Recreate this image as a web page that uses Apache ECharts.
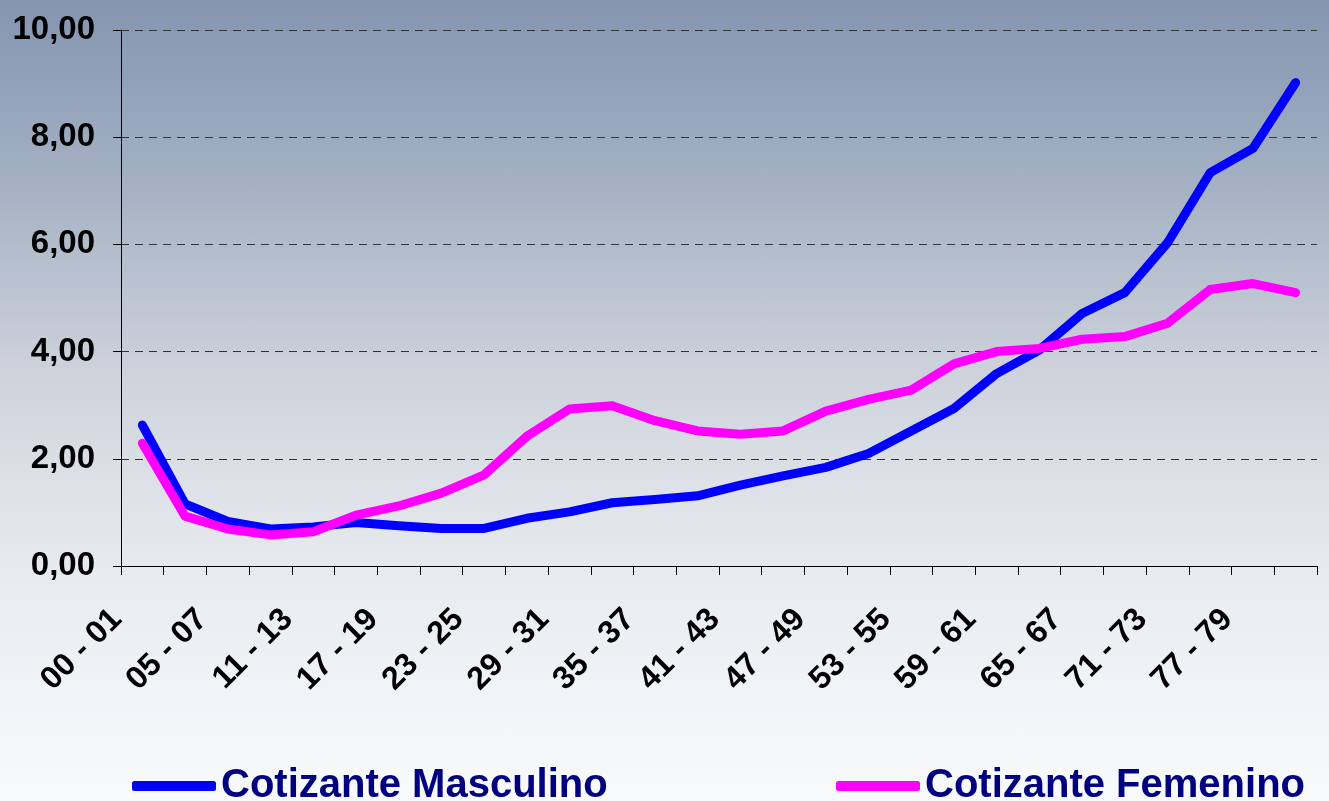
<!DOCTYPE html>
<html>
<head>
<meta charset="utf-8">
<script src="https://cdn.jsdelivr.net/npm/echarts@6/dist/echarts.min.js"></script>
<style>
html,body{margin:0;padding:0;}
#chart{width:1329px;height:801px;background:linear-gradient(to bottom,#8595b0 0%,#91a1b9 10%,#a8b4c5 25%,#cbd0da 45%,#dde1e7 60%,#eaedf1 75%,#f9fafc 100%);}
</style>
</head>
<body>
<div id="chart"></div>
<script>
const categories = ['00 - 01','02 - 04','05 - 07','08 - 10','11 - 13','14 - 16','17 - 19','20 - 22','23 - 25','26 - 28','29 - 31','32 - 34','35 - 37','38 - 40','41 - 43','44 - 46','47 - 49','50 - 52','53 - 55','56 - 58','59 - 61','62 - 64','65 - 67','68 - 70','71 - 73','74 - 76','77 - 79','80 - 82'];
const seriesNames = ['Cotizante Masculino', 'Cotizante Femenino'];
const masculino = [2.63,1.16,0.83,0.69,0.73,0.81,0.75,0.70,0.70,0.89,1.01,1.18,1.24,1.31,1.51,1.68,1.84,2.10,2.52,2.94,3.59,4.03,4.71,5.10,6.03,7.34,7.79,9.02];
const femenino = [2.29,0.93,0.69,0.58,0.64,0.95,1.12,1.36,1.70,2.42,2.93,2.99,2.71,2.52,2.46,2.52,2.89,3.11,3.28,3.77,4.00,4.06,4.23,4.28,4.53,5.16,5.27,5.10];
const yMin = 0, yMax = 10, yStep = 2;

const FONT = '"Liberation Sans", Arial, sans-serif';
const chart = echarts.init(document.getElementById('chart'), null, {renderer: 'canvas'});
const legendText = {fontFamily: FONT, fontWeight: 'bold', fontSize: 40, color: '#000080'};
chart.setOption({
  backgroundColor: 'transparent',
  animation: false,
  grid: {left: 121, right: 12, top: 30, bottom: 235, containLabel: false},
  legend: [
    {data: [seriesNames[0]], left: 127, top: 761, icon: 'roundRect', itemWidth: 84, itemHeight: 10, itemGap: 5, textStyle: legendText, selectedMode: false},
    {data: [seriesNames[1]], left: 831, top: 761, icon: 'roundRect', itemWidth: 84, itemHeight: 10, itemGap: 5, textStyle: legendText, selectedMode: false}
  ],
  xAxis: {
    type: 'category',
    data: categories,
    boundaryGap: true,
    axisLine: {lineStyle: {color: '#000', width: 1}},
    axisTick: {show: true, interval: 0, length: 9, lineStyle: {color: '#000'}},
    axisLabel: {interval: 1, rotate: 45, margin: 23, padding: [0, 36, 0, 0], fontFamily: FONT, fontWeight: 'bold', fontSize: 32, color: '#000'},
    splitLine: {show: false}
  },
  yAxis: {
    type: 'value',
    min: yMin, max: yMax, interval: yStep,
    axisLine: {show: true, lineStyle: {color: '#000', width: 1}},
    axisTick: {show: true, length: 8, lineStyle: {color: '#000'}},
    axisLabel: {margin: 26, fontFamily: FONT, fontWeight: 'bold', fontSize: 33, color: '#000',
      formatter: v => v.toFixed(2).replace('.', ',')},
    splitLine: {show: true, lineStyle: {color: '#333', width: 1, type: [8, 6]}}
  },
  series: [
    {name: seriesNames[0], type: 'line', data: masculino, showSymbol: false, symbol: 'none', color: '#0000ff',
      lineStyle: {width: 9, color: '#0000ff', cap: 'round', join: 'round'}},
    {name: seriesNames[1], type: 'line', data: femenino, showSymbol: false, symbol: 'none', color: '#ff00ff',
      lineStyle: {width: 9, color: '#ff00ff', cap: 'round', join: 'round'}}
  ]
});
</script>
</body>
</html>
